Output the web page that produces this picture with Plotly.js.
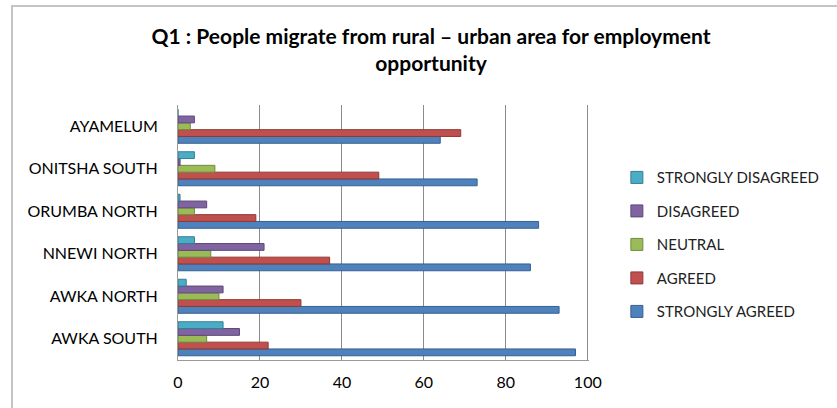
<!DOCTYPE html>
<html>
<head>
<meta charset="utf-8">
<script src="https://cdn.plot.ly/plotly-3.0.1.min.js"></script>
<style>
  html, body { margin: 0; padding: 0; background: #fff; }
  #frame { position: absolute; left: 11px; top: 5px; width: 900px; height: 500px;
           border-left: 2px solid #c4c4c4; border-top: 2px solid #c4c4c4; pointer-events: none; }
  #chart { position: absolute; left: 0; top: 0; width: 837px; height: 408px; }
</style>
</head>
<body>
<div id="chart"></div>
<div id="frame"></div>
<script>
// Categories listed bottom-to-top as drawn
const categories = ["AWKA SOUTH", "AWKA NORTH", "NNEWI NORTH", "ORUMBA NORTH", "ONITSHA SOUTH", "AYAMELUM"];

const stronglyAgreed    = [97, 93, 86, 88, 73, 64];
const agreed            = [22, 30, 37, 19, 49, 69];
const neutral           = [7, 10, 8, 4, 9, 3];
const disagreed         = [15, 11, 21, 7, 0.5, 4];
const stronglyDisagreed = [11, 2, 4, 0.5, 4, 0];

const seriesNames  = ["STRONGLY AGREED", "AGREED", "NEUTRAL", "DISAGREED", "STRONGLY DISAGREED"];
const seriesValues = [stronglyAgreed, agreed, neutral, disagreed, stronglyDisagreed];
const seriesColors = ["#4F81BD", "#C0504D", "#9BBB59", "#8064A2", "#4BACC6"];
const seriesEdges  = ["#35608F", "#8E3A37", "#718B3F", "#5C4878", "#337F93"];

const xTicks = [0, 20, 40, 60, 80, 100];

const traces = seriesNames.map((name, i) => ({
  type: "bar",
  orientation: "h",
  name: name,
  legendgroup: name,
  legendrank: seriesNames.length - i,
  y: categories,
  x: seriesValues[i],
  marker: { color: seriesColors[i], line: { color: seriesEdges[i], width: 1 } },
  hoverinfo: "x+name"
}));

const font = "Lato, 'Open Sans', sans-serif";

const layout = {
  width: 837,
  height: 408,
  paper_bgcolor: "rgba(0,0,0,0)",
  plot_bgcolor: "#ffffff",
  margin: { l: 178, r: 248, t: 105, b: 48, pad: 0, autoexpand: false },
  barmode: "group",
  bargap: 0.2,
  bargroupgap: 0,
  font: { family: font, size: 16, color: "#000" },
  title: {
    text: "<b>Q1 : People migrate from rural – urban area for employment<br>opportunity</b>",
    x: 0.515,
    xanchor: "center",
    y: 0.892,
    yanchor: "top",
    yref: "container",
    font: { family: font, size: 21, color: "#000" }
  },
  xaxis: {
    range: [0, 100.3],
    tickvals: xTicks,
    ticktext: xTicks.map(String),
    showgrid: true,
    gridcolor: "#8c8c8c",
    gridwidth: 1,
    showline: true,
    linecolor: "#9a9a9a",
    linewidth: 1,
    zeroline: false,
    ticks: "",
    tickfont: { family: font, size: 16, color: "#000" },
    ticklabelstandoff: 8,
    fixedrange: true
  },
  yaxis: {
    type: "category",
    categoryorder: "array",
    categoryarray: categories,
    showgrid: false,
    showline: true,
    linecolor: "#9a9a9a",
    linewidth: 1,
    zeroline: false,
    ticks: "",
    ticklabelstandoff: 16,
    tickfont: { family: font, size: 16, color: "#000" },
    fixedrange: true
  },
  legend: {
    xref: "container",
    yref: "container",
    x: 0.737,
    xanchor: "left",
    y: 0.605,
    yanchor: "top",
    traceorder: "grouped",
    tracegroupgap: 11,
    font: { family: font, size: 15, color: "#222" },
    bgcolor: "rgba(0,0,0,0)",
    itemclick: false
  },
  showlegend: true
};

Plotly.newPlot("chart", traces, layout, { displayModeBar: false, staticPlot: true });
</script>
</body>
</html>
